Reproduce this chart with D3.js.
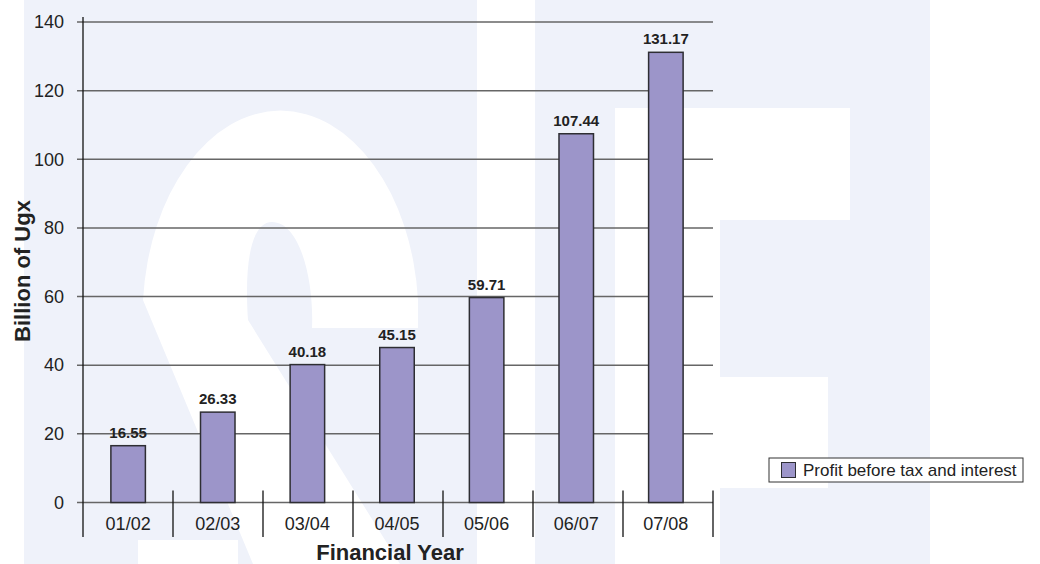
<!DOCTYPE html>
<html>
<head>
<meta charset="utf-8">
<script src="https://cdn.jsdelivr.net/npm/d3@7"></script>
<style>
  body { margin: 0; background: #fff; }
  svg { display: block; font-family: "Liberation Sans", Arial, sans-serif; }
</style>
</head>
<body>
<script>
var years = ["01/02", "02/03", "03/04", "04/05", "05/06", "06/07", "07/08"];
var profit = [16.55, 26.33, 40.18, 45.15, 59.71, 107.44, 131.17];
var yTicks = [0, 20, 40, 60, 80, 100, 120, 140];
var seriesName = "Profit before tax and interest";

var width = 1040, height = 564;
var margin = {left: 83, right: 327, top: 22, bottom: 61.5};

var svg = d3.select("body")
            .append("svg")
            .attr("width", width)
            .attr("height", height);

// faint watermark behind the chart
var wm = svg.append("g").attr("class", "watermark");
wm.append("rect").attr("x", 24).attr("y", 0).attr("width", 453).attr("height", height).attr("fill", "#eff2fa");
wm.append("rect").attr("x", 535).attr("y", 0).attr("width", 395).attr("height", height).attr("fill", "#eff2fa");
wm.append("path")
  .attr("fill", "#fff")
  .attr("d", "M143,300 A138,207 0 0 1 418,300 L418,328 L312,328 " +
             "C314,280 300,222 272,222 C252,222 244,260 248,320 " +
             "L400,564 L253,564 Z");
wm.append("rect").attr("x", 138).attr("y", 540).attr("width", 100).attr("height", 24).attr("fill", "#fff");
wm.append("rect").attr("x", 615).attr("y", 108).attr("width", 235).attr("height", 112).attr("fill", "#fff");
wm.append("rect").attr("x", 615).attr("y", 220).attr("width", 105).attr("height", 344).attr("fill", "#fff");
wm.append("rect").attr("x", 720).attr("y", 377).attr("width", 108).attr("height", 111).attr("fill", "#fff");

var x0 = margin.left, x1 = width - margin.right;
var y0 = height - margin.bottom;

// bars sit on a slightly narrower run than the divider cells
var x = d3.scaleBand()
          .domain(years)
          .range([x0 + 1, x1 - 3])
          .paddingInner(0.615)
          .paddingOuter(0.3);

var xCell = d3.scaleBand()
              .domain(years)
              .range([x0, x1])
              .padding(0);

var y = d3.scaleLinear()
          .domain([0, 140])
          .range([y0, margin.top]);

// gridlines
svg.append("g")
   .selectAll("line")
   .data(yTicks).enter()
   .append("line")
   .attr("x1", x0 - 6)
   .attr("x2", x1)
   .attr("y1", d => y(d))
   .attr("y2", d => y(d))
   .attr("stroke", "#666")
   .attr("stroke-width", 1.5);

// y axis
var yAxis = d3.axisLeft(y).tickValues(yTicks).tickSize(0).tickPadding(19);
var yg = svg.append("g")
   .attr("transform", "translate(" + x0 + ",0)")
   .call(yAxis);
yg.select(".domain").remove();
yg.selectAll("text").attr("font-size", 18).attr("fill", "#222").attr("font-family", "Liberation Sans, Arial, sans-serif");

svg.append("line")
   .attr("x1", x0).attr("x2", x0)
   .attr("y1", 17).attr("y2", 537)
   .attr("stroke", "#111").attr("stroke-width", 1.3);

// category dividers
svg.append("g")
   .selectAll("line")
   .data(years).enter()
   .append("line")
   .attr("x1", d => xCell(d) + xCell.bandwidth())
   .attr("x2", d => xCell(d) + xCell.bandwidth())
   .attr("y1", y0 - 12)
   .attr("y2", 537)
   .attr("stroke", "#111")
   .attr("stroke-width", 1.3);

// category labels
svg.append("g")
   .selectAll("text")
   .data(years).enter()
   .append("text")
   .attr("x", d => x(d) + x.bandwidth() / 2)
   .attr("y", 530)
   .attr("text-anchor", "middle")
   .attr("font-size", 18)
   .attr("fill", "#222")
   .text(d => d);

// bars
svg.append("g")
   .selectAll("rect")
   .data(profit).enter()
   .append("rect")
   .attr("x", (d, i) => x(years[i]))
   .attr("y", d => y(d))
   .attr("width", x.bandwidth())
   .attr("height", d => y0 - y(d))
   .attr("fill", "#9c95c9")
   .attr("stroke", "#2e2e33")
   .attr("stroke-width", 1.5);

// value labels
svg.append("g")
   .selectAll("text")
   .data(profit).enter()
   .append("text")
   .attr("x", (d, i) => x(years[i]) + x.bandwidth() / 2)
   .attr("y", d => y(d) - 8)
   .attr("text-anchor", "middle")
   .attr("font-size", 15)
   .attr("font-weight", "bold")
   .attr("fill", "#222")
   .text(d => d.toFixed(2));

// axis titles
svg.append("text")
   .attr("x", 390)
   .attr("y", 560)
   .attr("text-anchor", "middle")
   .attr("font-size", 22)
   .attr("font-weight", "bold")
   .attr("fill", "#222")
   .text("Financial Year");

svg.append("text")
   .attr("transform", "translate(30,271) rotate(-90)")
   .attr("text-anchor", "middle")
   .attr("font-size", 22)
   .attr("font-weight", "bold")
   .attr("fill", "#222")
   .text("Billion of Ugx");

// legend
var legend = svg.append("g").attr("transform", "translate(769,458)");
legend.append("rect")
      .attr("width", 254).attr("height", 24)
      .attr("fill", "#fff")
      .attr("stroke", "#333").attr("stroke-width", 1);
legend.append("rect")
      .attr("x", 12.5).attr("y", 4.5)
      .attr("width", 14).attr("height", 15)
      .attr("fill", "#9c95c9")
      .attr("stroke", "#2e2e33").attr("stroke-width", 1);
legend.append("text")
      .attr("x", 34).attr("y", 17.5)
      .attr("font-size", 17)
      .attr("fill", "#222")
      .text(seriesName);
</script>
</body>
</html>
